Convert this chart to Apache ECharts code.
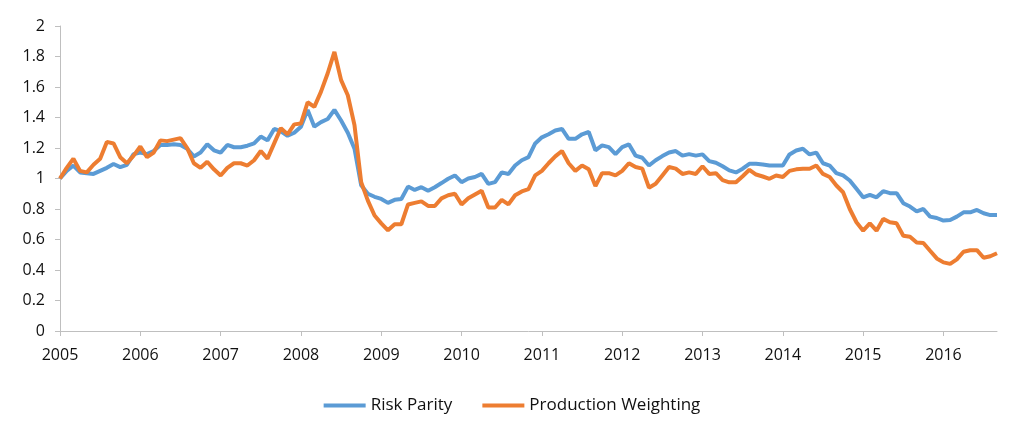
<!DOCTYPE html>
<html>
<head>
<meta charset="utf-8">
<script src="https://cdn.jsdelivr.net/npm/echarts@6/dist/echarts.min.js"></script>
<style>html,body{margin:0;padding:0;background:#fff}#c{width:1024px;height:439px}</style>
</head>
<body>
<div id="c"></div>
<script>
// Monthly data, Jan 2005 .. Sep 2016
const startYear = 2005;
const seriesNames = ['Risk Parity', 'Production Weighting'];
const riskParity = [
1.00,1.05,1.085,1.04,1.035,1.03,1.05,1.07,1.095,1.075,1.09,1.16,
1.17,1.16,1.18,1.22,1.22,1.225,1.22,1.195,1.145,1.17,1.225,1.185,
1.17,1.22,1.205,1.205,1.215,1.23,1.275,1.25,1.325,1.31,1.28,1.30,
1.34,1.45,1.34,1.37,1.39,1.45,1.38,1.30,1.195,0.955,0.90,0.88,
0.866,0.84,0.86,0.866,0.947,0.925,0.943,0.92,0.943,0.97,0.998,1.02,
0.976,1.00,1.01,1.03,0.965,0.976,1.04,1.03,1.085,1.12,1.14,1.23,
1.27,1.29,1.315,1.325,1.26,1.26,1.29,1.305,1.185,1.217,1.206,1.16,
1.206,1.224,1.15,1.136,1.085,1.12,1.147,1.17,1.18,1.15,1.16,1.15,
1.158,1.114,1.103,1.08,1.053,1.04,1.064,1.096,1.096,1.092,1.085,1.085,
1.085,1.158,1.184,1.195,1.158,1.17,1.10,1.085,1.035,1.02,0.987,0.932,
0.877,0.893,0.877,0.917,0.904,0.904,0.838,0.816,0.785,0.80,0.75,0.741,
0.724,0.728,0.75,0.778,0.778,0.794,0.772,0.76,0.76
];
const productionWeighting = [
1.00,1.07,1.13,1.05,1.04,1.09,1.13,1.24,1.23,1.14,1.10,1.15,
1.21,1.14,1.17,1.25,1.245,1.255,1.265,1.20,1.10,1.07,1.11,1.06,
1.02,1.07,1.10,1.10,1.085,1.12,1.18,1.13,1.23,1.33,1.29,1.355,
1.36,1.50,1.47,1.57,1.69,1.83,1.645,1.546,1.35,0.976,0.855,0.757,
0.706,0.66,0.70,0.70,0.83,0.84,0.85,0.82,0.82,0.87,0.89,0.90,
0.83,0.87,0.895,0.92,0.81,0.81,0.86,0.83,0.89,0.915,0.93,1.02,
1.05,1.10,1.145,1.18,1.10,1.05,1.085,1.06,0.95,1.035,1.035,1.02,
1.05,1.10,1.075,1.065,0.94,0.965,1.02,1.075,1.065,1.03,1.04,1.03,
1.08,1.03,1.035,0.99,0.975,0.975,1.015,1.057,1.026,1.013,0.998,1.02,
1.01,1.05,1.06,1.064,1.064,1.085,1.03,1.01,0.954,0.91,0.80,0.713,
0.658,0.706,0.658,0.735,0.713,0.706,0.625,0.618,0.58,0.577,0.526,0.476,
0.45,0.44,0.47,0.52,0.53,0.53,0.48,0.49,0.51
];
const categories = riskParity.map((_, i) => (startYear + Math.floor(i / 12)) + '-' + String(i % 12 + 1).padStart(2, '0'));

const font = '"Open Sans", "Liberation Sans", sans-serif';
const chart = echarts.init(document.getElementById('c'));
chart.setOption({
  animation: false,
  grid: { left: 60, right: 27, top: 26, bottom: 108 },
  legend: {
    bottom: 20, left: 'center',
    icon: 'rect', itemWidth: 42, itemHeight: 4, itemGap: 30,
    textStyle: { fontFamily: font, fontSize: 17, color: '#111' },
    data: seriesNames
  },
  xAxis: {
    type: 'category', data: categories, boundaryGap: false,
    axisLine: { lineStyle: { color: '#BFBFBF', width: 1 } },
    axisTick: { show: true, interval: (i) => i % 12 === 0, length: 5, lineStyle: { color: '#BFBFBF' } },
    axisLabel: { interval: (i) => i % 12 === 0, formatter: (v) => v.slice(0, 4), fontFamily: font, fontSize: 16, color: '#111', margin: 16 },
    splitLine: { show: false }
  },
  yAxis: {
    type: 'value', min: 0, max: 2, interval: 0.2,
    axisLine: { show: true, lineStyle: { color: '#BFBFBF', width: 1 } },
    axisTick: { show: true, length: 5, lineStyle: { color: '#BFBFBF' } },
    axisLabel: { fontFamily: font, fontSize: 16, color: '#111', margin: 15 },
    splitLine: { show: false }
  },
  series: [
    { name: seriesNames[0], type: 'line', data: riskParity, showSymbol: false, symbol: 'none',
      lineStyle: { color: '#5B9BD5', width: 4 }, itemStyle: { color: '#5B9BD5' }, z: 2 },
    { name: seriesNames[1], type: 'line', data: productionWeighting, showSymbol: false, symbol: 'none',
      lineStyle: { color: '#ED7D31', width: 4 }, itemStyle: { color: '#ED7D31' }, z: 3 }
  ]
});
</script>
</body>
</html>
